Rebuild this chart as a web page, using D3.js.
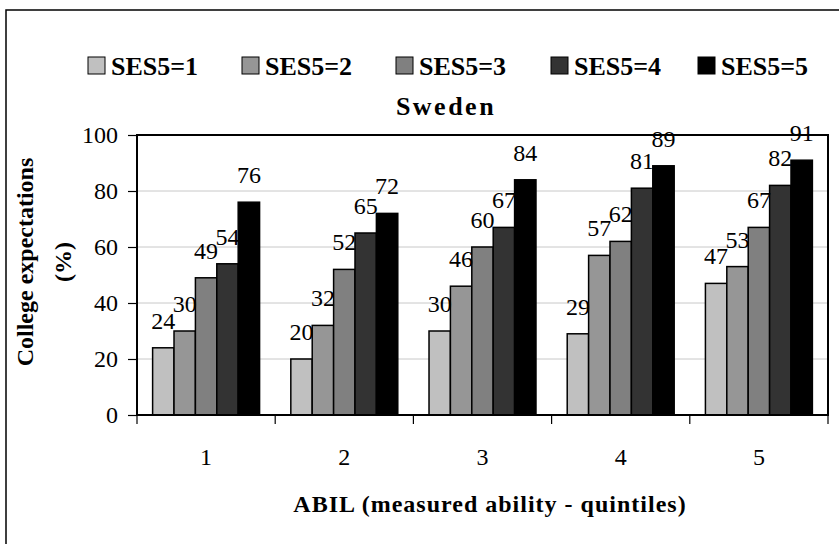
<!DOCTYPE html>
<html>
<head>
<meta charset="utf-8">
<script src="https://cdn.jsdelivr.net/npm/d3@7/dist/d3.min.js"></script>
<style>
  html, body { margin: 0; padding: 0; background: #fff; }
  svg { display: block; }
  text { font-family: "Liberation Serif", "Times New Roman", serif; fill: #000; }
</style>
</head>
<body>
<svg id="chart" width="839" height="544"></svg>
<script>
// Share of students expecting to attend college, by ability quintile and SES quintile
const categories = ["1", "2", "3", "4", "5"];
const seriesNames = ["SES5=1", "SES5=2", "SES5=3", "SES5=4", "SES5=5"];
const seriesColors = ["#c0c0c0", "#969696", "#808080", "#333333", "#000000"];
const ses1 = [24, 20, 30, 29, 47];
const ses2 = [30, 32, 46, 57, 53];
const ses3 = [49, 52, 60, 62, 67];
const ses4 = [54, 65, 67, 81, 82];
const ses5 = [76, 72, 84, 89, 91];
const yTicks = [0, 20, 40, 60, 80, 100];
const chartTitle = "Sweden";
const xTitle = "ABIL (measured ability - quintiles)";
const yTitleLines = ["College expectations", "(%)"];

const seriesValues = [ses1, ses2, ses3, ses4, ses5];

const svg = d3.select("#chart");

// outer chart frame
svg.append("rect")
  .attr("x", 6).attr("y", 10)
  .attr("width", 900).attr("height", 600)
  .attr("fill", "none").attr("stroke", "#000").attr("stroke-width", 1.5);

const plot = { left: 137, right: 828, top: 135, bottom: 415 };

const x0 = d3.scaleBand().domain(categories).range([plot.left, plot.right]).padding(0);
const bw = x0.bandwidth();
const x1 = d3.scaleBand().domain(seriesNames).range([bw * 0.113, bw * (1 - 0.113)]).padding(0);
const y = d3.scaleLinear().domain([0, 100]).range([plot.bottom, plot.top]);

// gridlines
svg.append("g")
  .selectAll("line")
  .data(yTicks.filter(t => t > 0 && t < 100))
  .join("line")
  .attr("x1", plot.left).attr("x2", plot.right)
  .attr("y1", d => y(d)).attr("y2", d => y(d))
  .attr("stroke", "#c8c8c8").attr("stroke-width", 1);

// bars
const groups = svg.append("g")
  .selectAll("g")
  .data(categories)
  .join("g")
  .attr("transform", d => `translate(${x0(d)},0)`);

groups.selectAll("rect")
  .data((c, ci) => seriesNames.map((s, si) => ({ s, si, v: seriesValues[si][ci] })))
  .join("rect")
  .attr("x", d => x1(d.s))
  .attr("y", d => y(d.v))
  .attr("width", x1.bandwidth())
  .attr("height", d => y(0) - y(d.v))
  .attr("fill", d => seriesColors[d.si])
  .attr("stroke", "#000").attr("stroke-width", 1.5);

// value labels
groups.selectAll("text")
  .data((c, ci) => seriesNames.map((s, si) => ({ s, si, v: seriesValues[si][ci] })))
  .join("text")
  .attr("x", d => x1(d.s) + x1.bandwidth() / 2)
  .attr("y", d => y(d.v) - 19)
  .attr("text-anchor", "middle")
  .attr("font-size", 24)
  .text(d => d.v);

// plot frame
svg.append("rect")
  .attr("x", plot.left).attr("y", plot.top)
  .attr("width", plot.right - plot.left).attr("height", plot.bottom - plot.top)
  .attr("fill", "none").attr("stroke", "#000").attr("stroke-width", 2);

// y axis
const yAxis = d3.axisLeft(y).tickValues(yTicks).tickSize(9).tickPadding(10);
const gy = svg.append("g").attr("transform", `translate(${plot.left},0)`).call(yAxis);
gy.select(".domain").remove();
gy.selectAll(".tick line").attr("stroke", "#000").attr("stroke-width", 1.2);
gy.selectAll(".tick text")
  .attr("font-family", "Liberation Serif, Times New Roman, serif")
  .attr("font-size", 24).attr("fill", "#000");

// x axis: ticks on category boundaries, labels in the middle
const boundaries = categories.map(c => x0(c)).concat([plot.right]);
svg.append("g")
  .selectAll("line")
  .data(boundaries)
  .join("line")
  .attr("x1", d => d).attr("x2", d => d)
  .attr("y1", plot.bottom).attr("y2", plot.bottom + 9)
  .attr("stroke", "#000").attr("stroke-width", 1.2);

svg.append("g")
  .selectAll("text")
  .data(categories)
  .join("text")
  .attr("x", d => x0(d) + bw / 2)
  .attr("y", 465)
  .attr("text-anchor", "middle")
  .attr("font-size", 24)
  .text(d => d);

// axis titles
svg.append("text")
  .attr("x", 490).attr("y", 512)
  .attr("text-anchor", "middle")
  .attr("font-size", 24).attr("font-weight", "bold")
  .attr("letter-spacing", 1)
  .text(xTitle);

const yTitle = svg.append("text")
  .attr("transform", "translate(0,262) rotate(-90)")
  .attr("text-anchor", "middle")
  .attr("font-size", 24).attr("font-weight", "bold");
yTitle.append("tspan").attr("x", 0).attr("y", 33).text(yTitleLines[0]);
yTitle.append("tspan").attr("x", 0).attr("y", 71).text(yTitleLines[1]);

// chart title
svg.append("text")
  .attr("x", 446).attr("y", 115)
  .attr("text-anchor", "middle")
  .attr("font-size", 26).attr("font-weight", "bold")
  .attr("letter-spacing", 2.5)
  .text(chartTitle);

// legend
const legendX = [88, 242, 396, 551, 698];
const legend = svg.append("g")
  .selectAll("g")
  .data(seriesNames)
  .join("g")
  .attr("transform", (d, i) => `translate(${legendX[i]},57)`);
legend.append("rect")
  .attr("width", 17).attr("height", 17)
  .attr("fill", (d, i) => seriesColors[i])
  .attr("stroke", "#000").attr("stroke-width", 1);
legend.append("text")
  .attr("x", 23).attr("y", 18)
  .attr("font-size", 26).attr("font-weight", "bold")
  .text(d => d);
</script>
</body>
</html>
